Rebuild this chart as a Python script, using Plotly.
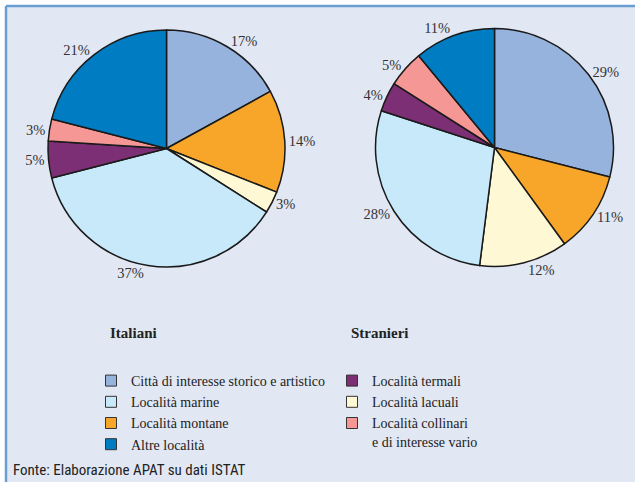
import plotly.graph_objects as go

# Data
categorie = ["Città di interesse storico e artistico", "Località montane", "Località lacuali",
             "Località marine", "Località termali", "Località collinari e di interesse vario",
             "Altre località"]
italiani = [17, 14, 3, 37, 5, 3, 21]
stranieri = [29, 11, 12, 28, 4, 5, 11]
colori = ["#95b3dd", "#f8a62a", "#fff8d5", "#c7e9f9", "#7c2f74", "#f59794", "#007cc3"]

# legend columns (label shown, index into categorie)
legenda_1 = [("Città di interesse storico e artistico", 0), ("Località marine", 3),
             ("Località montane", 1), ("Altre località", 6)]
legenda_2 = [("Località termali", 4), ("Località lacuali", 2),
             ("Località collinari<br>e di interesse vario", 5)]

W, H = 635, 482
serif = "Liberation Serif, Times New Roman, serif"


def px_x(x):
    return x / W


def px_y(y):
    return 1 - y / H


fig = go.Figure()

# Two pies
for vals, cx, cy, r in [(italiani, 166.5, 148.5, 118.5), (stranieri, 494.5, 147.5, 119)]:
    fig.add_trace(go.Pie(
        labels=categorie,
        values=vals,
        sort=False,
        direction="clockwise",
        rotation=0,
        marker=dict(colors=colori, line=dict(color="#1a1a1a", width=1.5)),
        textposition="outside",
        texttemplate="%{value}%",
        textfont=dict(family=serif, size=14.5, color="#333333"),
        showlegend=False,
        domain=dict(x=[px_x(cx - r), px_x(cx + r)], y=[px_y(cy + r), px_y(cy - r)]),
    ))

# Legend entries as dummy square markers
for leg, items in [("legend", legenda_1), ("legend2", legenda_2)]:
    for name, i in items:
        fig.add_trace(go.Scatter(
            x=[None], y=[None], mode="markers", name=name, legend=leg,
            marker=dict(symbol="square", size=11, color=colori[i],
                        line=dict(color="#333333", width=1)),
        ))

legend_style = dict(font=dict(family=serif, size=14, color="#222222"),
                    bgcolor="rgba(0,0,0,0)", yanchor="top", xanchor="left",
                    itemwidth=30, traceorder="normal")

fig.update_layout(
    width=W, height=H,
    margin=dict(l=0, r=0, t=0, b=0),
    paper_bgcolor="white",
    plot_bgcolor="rgba(0,0,0,0)",
    xaxis=dict(visible=False), yaxis=dict(visible=False),
    legend=dict(x=px_x(91), y=px_y(365), **legend_style),
    legend2=dict(x=px_x(332), y=px_y(365), valign="top", **legend_style),
    shapes=[
        dict(type="rect", xref="paper", yref="paper", layer="below",
             x0=px_x(6), x1=1, y0=0, y1=px_y(6),
             fillcolor="#e1e7f3", line=dict(width=0)),
        dict(type="line", xref="paper", yref="paper",
             x0=px_x(6), x1=1, y0=px_y(6), y1=px_y(6),
             line=dict(color="#6b9fd3", width=2.5)),
        dict(type="line", xref="paper", yref="paper",
             x0=px_x(6), x1=px_x(6), y0=0, y1=px_y(6),
             line=dict(color="#6b9fd3", width=2.5)),
    ],
    annotations=[
        dict(text="<b>Italiani</b>", x=px_x(133.5), y=px_y(333), xref="paper", yref="paper",
             xanchor="center", yanchor="middle", showarrow=False,
             font=dict(family=serif, size=15, color="#222222")),
        dict(text="<b>Stranieri</b>", x=px_x(380), y=px_y(333), xref="paper", yref="paper",
             xanchor="center", yanchor="middle", showarrow=False,
             font=dict(family=serif, size=15, color="#222222")),
        dict(text="Fonte: Elaborazione APAT su dati ISTAT", x=px_x(11), y=px_y(470),
             xref="paper", yref="paper", xanchor="left", yanchor="middle", showarrow=False,
             font=dict(family="Liberation Sans Narrow, Arial Narrow, Roboto Condensed, sans-serif",
                       size=15, color="#222222")),
    ],
)

# page body has a default 8px margin; drop it so the figure sits at the window corner
fig.write_html("out.html", config={"displayModeBar": False},
               post_script="document.body.style.margin='0';")
